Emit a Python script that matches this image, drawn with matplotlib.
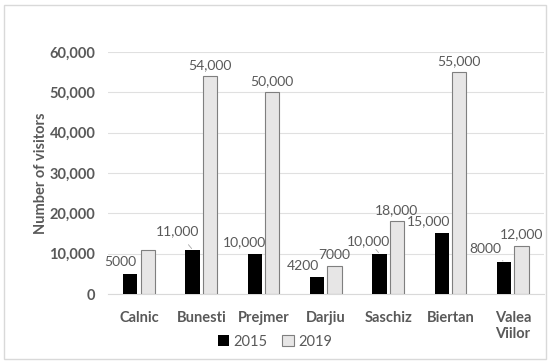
import matplotlib.pyplot as plt
import numpy as np
from matplotlib.patches import Rectangle

villages = ['Calnic', 'Bunesti', 'Prejmer', 'Darjiu', 'Saschiz', 'Biertan', 'Valea\nViilor']
visitors_2015 = [5000, 11000, 10000, 4200, 10000, 15000, 8000]
visitors_2019 = [11000, 54000, 50000, 7000, 18000, 55000, 12000]
labels_2015 = ['5000', '11,000', '10,000', '4200', '10,000', '15,000', '8000']
labels_2019 = ['', '54,000', '50,000', '7000', '18,000', '55,000', '12,000']

# label offsets in pixels (dx, dy) and whether a leader line is drawn
off_2015 = [(-10, 12), (-15, 18), (-10, 12), (-14, 11), (-11, 13), (-13, 12), (-19, 13)]
lead_2015 = [False, True, False, False, True, False, True]

plt.rcParams['font.family'] = ['Lato', 'DejaVu Sans']
txt = '#595959'

fig = plt.figure(figsize=(5.5, 3.63), dpi=100)
ax = fig.add_axes([0.196, 0.19, 0.793, 0.667])
fig.patches.append(Rectangle((0.008, 0.012), 0.984, 0.973, transform=fig.transFigure,
                             fill=False, edgecolor='#d9d9d9', lw=1))

x = np.arange(len(villages))
w = 0.23
b1 = ax.bar(x - w / 2 - 0.025, visitors_2015, w, color='black', label='2015', zorder=3)
b2 = ax.bar(x + w / 2 + 0.025, visitors_2019, w, color='#e7e6e6', edgecolor='#7f7f7f',
            lw=0.8, label='2019', zorder=3)

for i, r in enumerate(b1):
    xy = (r.get_x() + r.get_width() / 2, r.get_height())
    ap = dict(arrowstyle='-', color='#a6a6a6', lw=0.6, shrinkA=4, shrinkB=1) if lead_2015[i] else None
    ax.annotate(labels_2015[i], xy, xytext=off_2015[i], textcoords='offset pixels',
                ha='center', va='center', fontsize=10, color=txt, arrowprops=ap)
for i, r in enumerate(b2):
    if labels_2019[i]:
        ax.annotate(labels_2019[i], (r.get_x() + r.get_width() / 2, r.get_height()),
                    xytext=(0, 11), textcoords='offset pixels',
                    ha='center', va='center', fontsize=10, color=txt)

ax.set_ylim(0, 60000)
ax.set_xlim(-0.5, len(villages) - 0.5)
ax.set_yticks(np.arange(0, 60001, 10000))
ax.set_yticklabels([f'{v:,}' for v in range(0, 60001, 10000)])
ax.set_xticks(x)
ax.set_xticklabels(villages, fontweight='bold', color=txt, fontsize=10.5)
for t in ax.get_yticklabels():
    t.set_fontweight('bold')
    t.set_color(txt)
    t.set_fontsize(10.5)
ax.tick_params(axis='y', length=0, pad=9)
ax.tick_params(axis='x', length=0, pad=12)
ax.yaxis.grid(True, color='#e0e0e0', lw=0.8, zorder=0)
for s in ['top', 'right', 'left']:
    ax.spines[s].set_visible(False)
ax.spines['bottom'].set_color('#d9d9d9')
ax.set_ylabel('Number of visitors', fontweight='bold', color=txt, fontsize=10.5, labelpad=1)

fig.legend(handles=[b1, b2], loc='center', bbox_to_anchor=(0.5, 0.058), ncol=2, frameon=False,
           fontsize=10.5, labelcolor=txt, handlelength=0.8, handleheight=0.8,
           handletextpad=0.3, columnspacing=1.0)

fig.savefig('out.png', dpi=100)
